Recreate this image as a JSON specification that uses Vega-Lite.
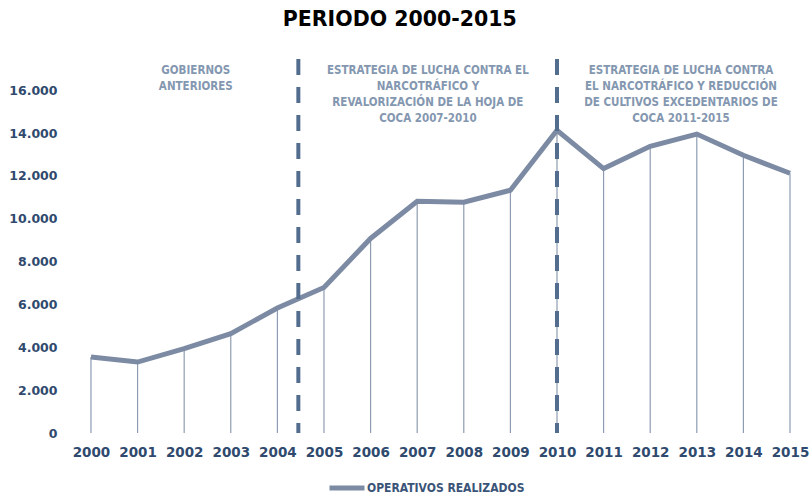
{
  "$schema": "https://vega.github.io/schema/vega-lite/v6.json",
  "autosize": {"type": "none"},
  "width": 720,
  "height": 375,
  "padding": {"left": 70, "top": 58, "right": 21, "bottom": 62},
  "background": "white",
  "title": {
    "text": "PERIODO 2000-2015",
    "font": "DejaVu Sans",
    "fontSize": 20.5,
    "fontWeight": "bold",
    "color": "#000000",
    "anchor": "start",
    "frame": "bounds",
    "dx": 274,
    "offset": 27
  },
  "config": {
    "view": {"stroke": null}
  },
  "datasets": {
    "ops": [
      {"anio": 2000, "valor": 3550, "serie": "OPERATIVOS REALIZADOS"},
      {"anio": 2001, "valor": 3310, "serie": "OPERATIVOS REALIZADOS"},
      {"anio": 2002, "valor": 3940, "serie": "OPERATIVOS REALIZADOS"},
      {"anio": 2003, "valor": 4640, "serie": "OPERATIVOS REALIZADOS"},
      {"anio": 2004, "valor": 5830, "serie": "OPERATIVOS REALIZADOS"},
      {"anio": 2005, "valor": 6790, "serie": "OPERATIVOS REALIZADOS"},
      {"anio": 2006, "valor": 9080, "serie": "OPERATIVOS REALIZADOS"},
      {"anio": 2007, "valor": 10810, "serie": "OPERATIVOS REALIZADOS"},
      {"anio": 2008, "valor": 10770, "serie": "OPERATIVOS REALIZADOS"},
      {"anio": 2009, "valor": 11330, "serie": "OPERATIVOS REALIZADOS"},
      {"anio": 2010, "valor": 14130, "serie": "OPERATIVOS REALIZADOS"},
      {"anio": 2011, "valor": 12340, "serie": "OPERATIVOS REALIZADOS"},
      {"anio": 2012, "valor": 13380, "serie": "OPERATIVOS REALIZADOS"},
      {"anio": 2013, "valor": 13950, "serie": "OPERATIVOS REALIZADOS"},
      {"anio": 2014, "valor": 12960, "serie": "OPERATIVOS REALIZADOS"},
      {"anio": 2015, "valor": 12120, "serie": "OPERATIVOS REALIZADOS"}
    ],
    "divs": [
      {"x": 2004.45, "y0": 0, "y1": 17450},
      {"x": 2010, "y0": 0, "y1": 17450}
    ],
    "notas": [
      {"x": 2002.25, "y": 17180, "texto": ["GOBIERNOS", "ANTERIORES"]},
      {"x": 2007.23, "y": 17180, "texto": ["ESTRATEGIA DE LUCHA CONTRA EL", "NARCOTRÁFICO Y", "REVALORIZACIÓN DE LA HOJA DE", "COCA 2007-2010"]},
      {"x": 2012.66, "y": 17180, "texto": ["ESTRATEGIA DE LUCHA CONTRA", "EL NARCOTRÁFICO Y REDUCCIÓN", "DE CULTIVOS EXCEDENTARIOS DE", "COCA 2011-2015"]}
    ]
  },
  "layer": [
    {
      "data": {"name": "ops"},
      "mark": {"type": "rule", "color": "#8e9cb2", "strokeWidth": 1.2},
      "encoding": {
        "x": {"field": "anio", "type": "quantitative"},
        "y": {"field": "valor", "type": "quantitative"},
        "y2": {"datum": 0}
      }
    },
    {
      "data": {"name": "ops"},
      "mark": {"type": "line", "strokeWidth": 5, "strokeJoin": "miter", "strokeCap": "butt"},
      "encoding": {
        "x": {
          "field": "anio",
          "type": "quantitative",
          "scale": {"domain": [1999.55, 2015], "nice": false, "zero": false},
          "axis": {
            "title": null,
            "values": [2000, 2001, 2002, 2003, 2004, 2005, 2006, 2007, 2008, 2009, 2010, 2011, 2012, 2013, 2014, 2015],
            "format": "d",
            "domain": false,
            "ticks": false,
            "grid": false,
            "labelFont": "DejaVu Sans",
            "labelFontSize": 13.5,
            "labelFontWeight": "bold",
            "labelColor": "#2f4a6e",
            "labelPadding": 12,
            "labelFlush": false,
            "labelOverlap": false
          }
        },
        "y": {
          "field": "valor",
          "type": "quantitative",
          "scale": {"domain": [0, 17500], "nice": false},
          "axis": {
            "title": null,
            "values": [0, 2000, 4000, 6000, 8000, 10000, 12000, 14000, 16000],
            "labelExpr": "replace(format(datum.value, ','), ',', '.')",
            "domain": false,
            "ticks": false,
            "grid": false,
            "labelFont": "DejaVu Sans",
            "labelFontSize": 12.5,
            "labelFontWeight": "bold",
            "labelColor": "#2f4a6e",
            "labelPadding": 13
          }
        },
        "color": {
          "field": "serie",
          "type": "nominal",
          "scale": {"range": ["#7c8ba3"]},
          "legend": {
            "title": null,
            "orient": "none",
            "legendX": 257,
            "legendY": 410,
            "symbolType": "stroke",
            "symbolSize": 1225,
            "symbolStrokeWidth": 5,
            "labelFont": "DejaVu Sans Condensed, Roboto Condensed, Roboto, sans-serif",
            "labelFontSize": 12,
            "labelFontWeight": "bold",
            "labelColor": "#3a5478",
            "labelOffset": 0
          }
        }
      }
    },
    {
      "data": {"name": "divs"},
      "mark": {"type": "rule", "color": "#536d8f", "strokeWidth": 4, "strokeDash": [16, 12]},
      "encoding": {
        "x": {"field": "x", "type": "quantitative"},
        "y": {"field": "y1", "type": "quantitative"},
        "y2": {"field": "y0"}
      }
    },
    {
      "data": {"name": "notas"},
      "mark": {
        "type": "text",
        "font": "DejaVu Sans Condensed, Roboto Condensed, Roboto, sans-serif",
        "fontSize": 11.5,
        "fontWeight": "bold",
        "color": "#8497b0",
        "align": "center",
        "baseline": "top",
        "lineHeight": 16
      },
      "encoding": {
        "x": {"field": "x", "type": "quantitative"},
        "y": {"field": "y", "type": "quantitative"},
        "text": {"field": "texto"}
      }
    }
  ]
}
